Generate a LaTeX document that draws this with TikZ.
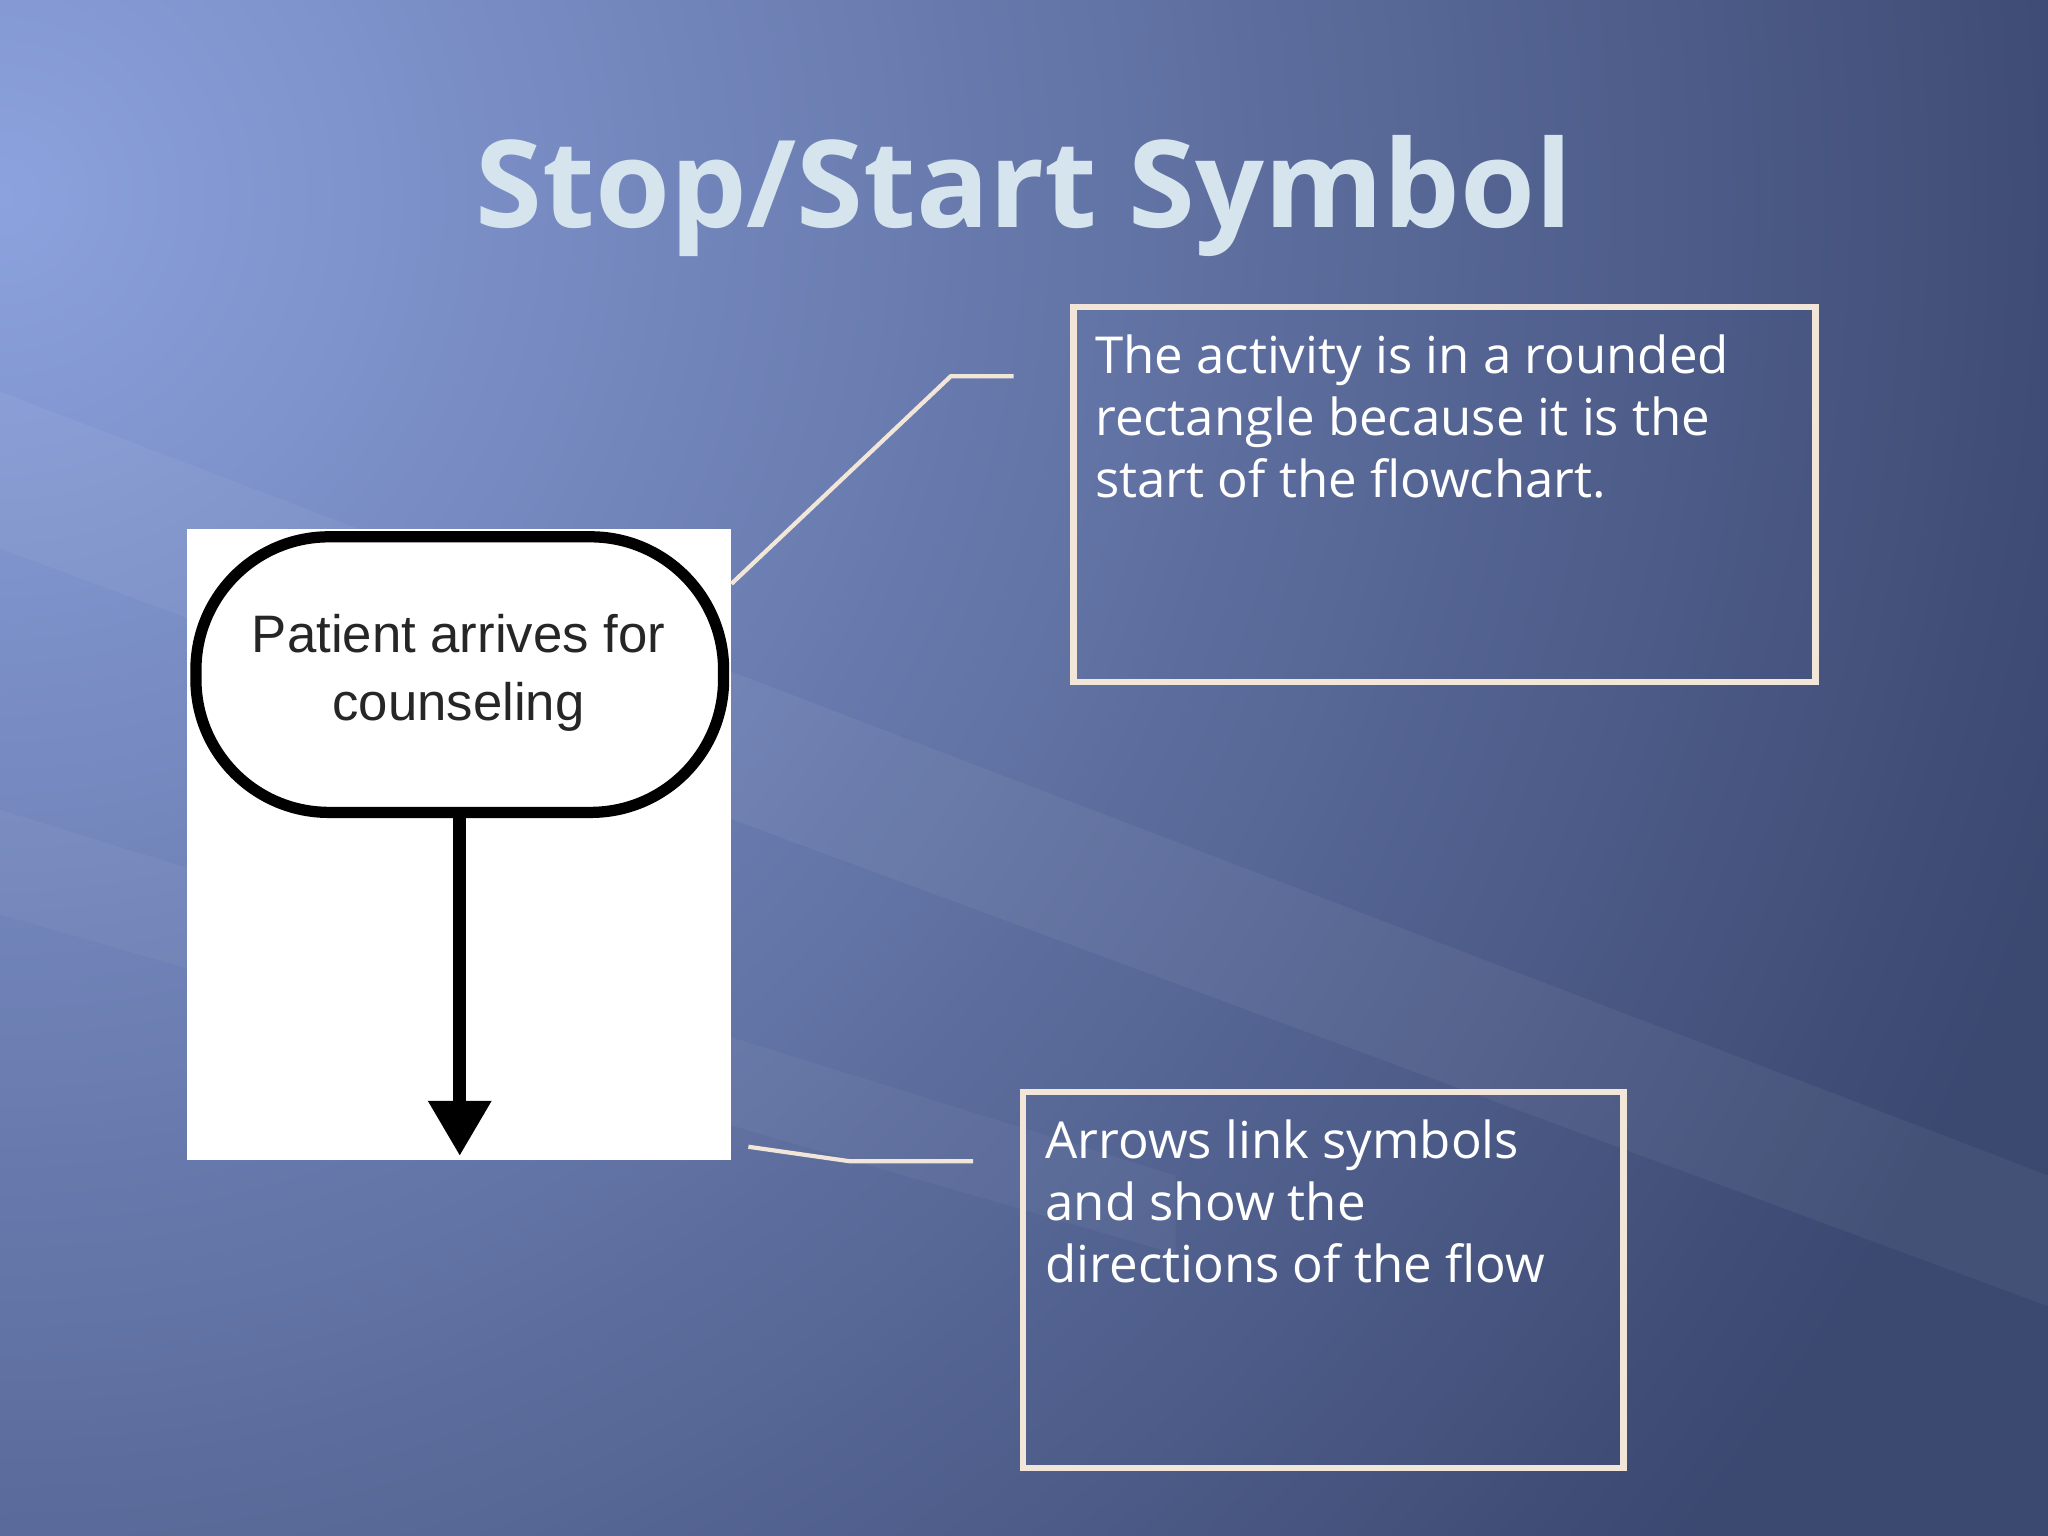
\documentclass[tikz,border=0pt]{standalone}
\usepackage{fontspec}
\setmainfont{Open Sans}
\newfontfamily\arialf{Liberation Sans}
\usetikzlibrary{arrows.meta}
\definecolor{bgA}{HTML}{8CA2DE}
\definecolor{bgM}{HTML}{5A6A9C}
\definecolor{bgB}{HTML}{3B4870}
\definecolor{cream}{HTML}{F2E6D8}
\definecolor{ttl}{HTML}{D6E4EE}
\tikzset{
  callout/.style={draw=cream, line width=1.8pt},
  cline/.style={draw=cream, line width=1.2pt},
  txt/.style={text=white, align=left, anchor=north west, font=\fontsize{14.5}{17.6}\selectfont, inner sep=0pt},
}
\begin{document}
\begin{tikzpicture}[x=0.013061cm, y=-0.013061cm]
\useasboundingbox (0,0) rectangle (1568,1176);
\begin{scope}
\clip (0,0) rectangle (1568,1176);
\fill[bgB] (0,0) rectangle (1568,1176);
\shade[inner color=bgA, outer color=bgB] (0,150) circle (1650);
\fill[white, opacity=0.05] (0,300) -- (1568,900) -- (1568,1000) -- (0,420) -- cycle;
\fill[white, opacity=0.04] (0,620) -- (900,900) -- (900,960) -- (0,700) -- cycle;
\end{scope}
\node (title) at (784,150) {\fontsize{34.5}{40}\selectfont\bfseries\color{ttl} Stop/Start Symbol};
% picture
\fill[white] (143,405) rectangle (560,888);
\draw[black, line width=3.2pt, rounded corners=1.33cm] (150,411) rectangle (554,622);
\node[text=black!85, align=center, font=\arialf\fontsize{15}{19.5}\selectfont] (pat) at (351,515) {Patient arrives for\\counseling};
\coordinate (a0) at (352,622);
\coordinate (a1) at (352,885);
\draw[line width=3.6pt, -{Triangle[length=0.55cm,width=0.6cm]}] (a0) -- (a1);
% boxes
\draw[callout] (822,235) rectangle (1390,522);
\node[txt] (t1) at (838,256) {The activity is in a rounded\\rectangle because it is the\\start of the flowchart.};
\draw[callout] (783,836) rectangle (1243,1124);
\node[txt] (t2) at (800,857) {Arrows link symbols\\and show the\\directions of the flow};
\coordinate (l1a) at (560,447);
\coordinate (l1b) at (728,288);
\coordinate (l1c) at (776,288);
\draw[cline] (l1a) -- (l1b) -- (l1c);
\coordinate (l2a) at (573,878);
\coordinate (l2b) at (650,889);
\coordinate (l2c) at (745,889);
\draw[cline] (l2a) -- (l2b) -- (l2c);
\end{tikzpicture}
\end{document}
